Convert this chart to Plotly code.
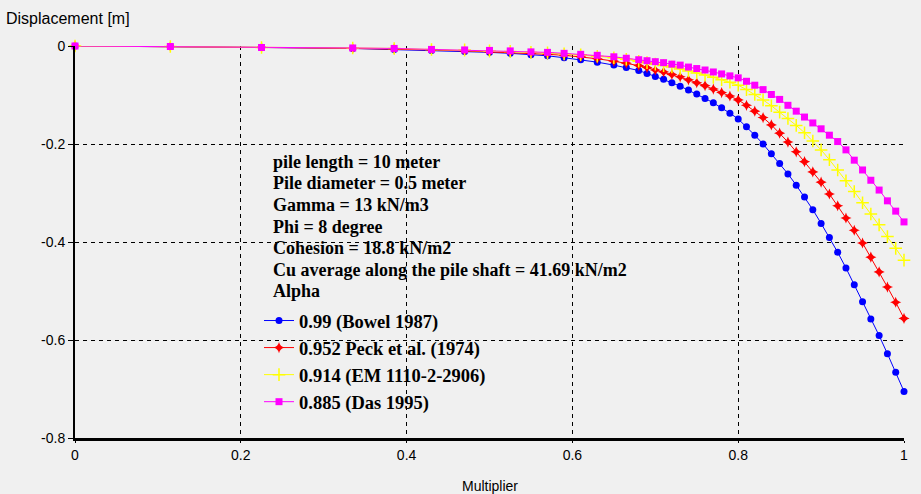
import plotly.graph_objects as go

MULTIPLIER = [0, 0.115, 0.225, 0.335, 0.385, 0.43, 0.47, 0.5, 0.525, 0.55, 0.57, 0.59,
              0.61, 0.63, 0.65, 0.665, 0.68, 0.69,
              0.70, 0.71, 0.72, 0.73, 0.74, 0.75, 0.76, 0.77, 0.78, 0.79, 0.80,
              0.81, 0.82, 0.83, 0.84, 0.85, 0.86, 0.87, 0.88, 0.89, 0.90,
              0.91, 0.92, 0.93, 0.94, 0.95, 0.96, 0.97, 0.98, 0.99, 1.00]

BOWEL = [0, -0.001, -0.003, -0.005, -0.007, -0.009, -0.011, -0.013, -0.015, -0.018, -0.020, -0.024,
         -0.028, -0.033, -0.039, -0.044, -0.050, -0.056,
         -0.062, -0.068, -0.075, -0.082, -0.090, -0.098, -0.107, -0.116, -0.126, -0.137, -0.149,
         -0.165, -0.182, -0.200, -0.220, -0.240, -0.261, -0.284, -0.308, -0.334, -0.362,
         -0.391, -0.421, -0.453, -0.487, -0.522, -0.557, -0.591, -0.628, -0.666, -0.705]

PECK = [0, -0.001, -0.003, -0.005, -0.006, -0.008, -0.010, -0.012, -0.013, -0.015, -0.017, -0.019,
        -0.022, -0.026, -0.031, -0.035, -0.040, -0.044,
        -0.049, -0.053, -0.058, -0.063, -0.069, -0.075, -0.081, -0.088, -0.095, -0.102, -0.110,
        -0.121, -0.133, -0.146, -0.161, -0.178, -0.196, -0.216, -0.236, -0.257, -0.278,
        -0.302, -0.326, -0.351, -0.376, -0.402, -0.431, -0.461, -0.492, -0.523, -0.556]

EM = [0, -0.001, -0.003, -0.004, -0.005, -0.007, -0.008, -0.010, -0.011, -0.013, -0.014, -0.016,
      -0.018, -0.021, -0.024, -0.027, -0.031, -0.034,
      -0.037, -0.040, -0.043, -0.047, -0.051, -0.055, -0.059, -0.064, -0.069, -0.074, -0.080,
      -0.089, -0.099, -0.110, -0.122, -0.135, -0.148, -0.162, -0.177, -0.194, -0.212,
      -0.232, -0.253, -0.275, -0.297, -0.320, -0.343, -0.365, -0.389, -0.413, -0.437]

DAS = [0, -0.001, -0.003, -0.004, -0.005, -0.007, -0.008, -0.009, -0.010, -0.012, -0.013, -0.015,
       -0.017, -0.019, -0.022, -0.025, -0.028, -0.030,
       -0.032, -0.034, -0.037, -0.039, -0.043, -0.046, -0.049, -0.053, -0.057, -0.061, -0.065,
       -0.072, -0.080, -0.089, -0.099, -0.109, -0.121, -0.133, -0.145, -0.157, -0.169,
       -0.182, -0.195, -0.212, -0.233, -0.253, -0.274, -0.294, -0.316, -0.337, -0.359]

SERIES_NAMES = ["0.99 (Bowel 1987)", "0.952 Peck et al. (1974)", "0.914 (EM 1110-2-2906)", "0.885 (Das 1995)"]
SERIES_VALUES = [BOWEL, PECK, EM, DAS]
COLORS = ["#0000ff", "#ff0000", "#ffff00", "#ff00ff"]
SYMBOLS = ["circle", "star-diamond", "cross-thin", "square"]
SIZES = [7, 8, 9, 7]

X_TICKS = [0, 0.2, 0.4, 0.6, 0.8, 1]
X_TICK_LABELS = ["0", "0.2", "0.4", "0.6", "0.8", "1"]
Y_TICKS = [0, -0.2, -0.4, -0.6, -0.8]
Y_TICK_LABELS = ["0", "-0.2", "-0.4", "-0.6", "-0.8"]

INFO_LINES = ["pile length = 10 meter", "Pile diameter = 0.5 meter", "Gamma = 13 kN/m3",
              "Phi = 8 degree", "Cohesion = 18.8 kN/m2",
              "Cu average along the pile shaft = 41.69 kN/m2", "Alpha"]

BG = "#f0f0f0"
SANS = "Liberation Sans, Arial, sans-serif"
SERIF = "Liberation Serif, Times New Roman, serif"

# plot area in pixels: left 75, right 904, top 46, bottom 438
PL, PW, PB, PH = 75, 829, 438, 392


def px_x(p):
    return (p - PL) / PW


def px_y(p):
    return (PB - p) / PH


fig = go.Figure()
for i, (name, vals) in enumerate(zip(SERIES_NAMES, SERIES_VALUES)):
    fig.add_trace(go.Scatter(
        x=MULTIPLIER, y=vals, name=name, mode="lines+markers",
        line=dict(color=COLORS[i], width=1),
        marker=dict(color=COLORS[i], symbol=SYMBOLS[i], size=SIZES[i],
                    line=dict(color=COLORS[i], width=1.5 if SYMBOLS[i] == "cross-thin" else 0)),
        cliponaxis=False, legendgroup=f"g{i}",
    ))

for k, line in enumerate(INFO_LINES):
    fig.add_annotation(
        text=line, xref="paper", yref="paper",
        x=px_x(271), y=px_y(162 + k * 21.5), xanchor="left", yanchor="middle",
        align="left", showarrow=False,
        font=dict(family=SERIF, size=18, color="#000000", weight="bold"),
    )

fig.add_annotation(
    text="Displacement [m]", xref="paper", yref="paper",
    x=px_x(4), y=px_y(18), xanchor="left", yanchor="middle",
    showarrow=False, font=dict(family=SANS, size=16, color="#000000"),
)
fig.add_annotation(
    text="Multiplier", xref="paper", yref="paper",
    x=0.5, y=px_y(486), xanchor="center", yanchor="middle",
    showarrow=False, font=dict(family=SANS, size=14, color="#000000"),
)

fig.update_layout(
    width=921, height=494,
    margin=dict(l=PL, r=921 - PL - PW, t=PB - PH, b=494 - PB),
    paper_bgcolor=BG, plot_bgcolor=BG,
    font=dict(family=SANS, size=14, color="#000000"),
    showlegend=True,
    legend=dict(
        x=px_x(259), y=px_y(302), xanchor="left", yanchor="top",
        bgcolor="rgba(0,0,0,0)", tracegroupgap=0,
        font=dict(family=SERIF, size=18.5, color="#000000", weight="bold"),
    ),
    xaxis=dict(
        range=[0, 1], tickvals=X_TICKS, ticktext=X_TICK_LABELS,
        showgrid=True, gridcolor="#000000", gridwidth=1, griddash="4px,4px",
        showline=True, linecolor="#000000", linewidth=3, zeroline=False,
        ticks="outside", ticklen=2, tickcolor="#000000", ticklabelstandoff=0,
    ),
    yaxis=dict(
        range=[-0.8, 0], tickvals=Y_TICKS, ticktext=Y_TICK_LABELS,
        showgrid=True, gridcolor="#000000", gridwidth=1, griddash="4px,4px",
        showline=True, linecolor="#000000", linewidth=2, zeroline=False,
        ticks="outside", ticklen=5, tickcolor="#000000",
    ),
)

fig.write_html("out.html")
